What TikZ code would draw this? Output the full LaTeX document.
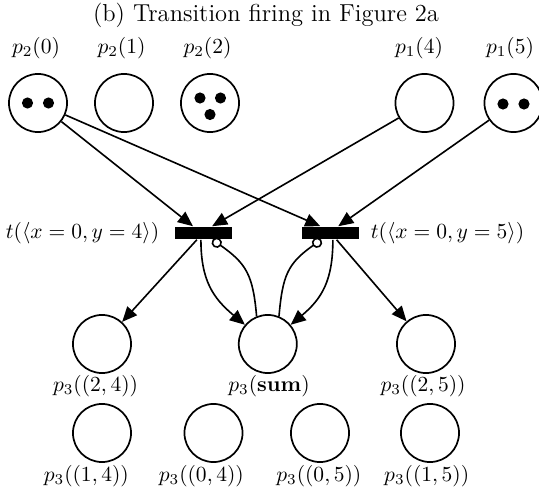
\documentclass[tikz,border=0pt]{standalone}
\usetikzlibrary{arrows.meta}
\begin{document}
\begin{tikzpicture}[x=0.465pt,y=-0.465pt,
  place/.style={circle,draw,line width=0.8pt,minimum size=27pt,inner sep=0pt},
  trans/.style={rectangle,fill=black,minimum width=26.5pt,minimum height=5.9pt,inner sep=0pt},
  tok/.style={circle,fill=black,minimum size=5.2pt,inner sep=0pt},
  lbl/.style={inner sep=0pt},
  arc/.style={line width=0.75pt,-{Triangle[length=7pt,width=6pt]}},
  readarc/.style={line width=0.75pt,-{Circle[open,length=4.8pt]}}
]
\clip (0,0) rectangle (539,494);
\node[lbl] (title) at (266,15) {\fontsize{11.4}{13}\selectfont (b) Transition firing in Figure 2a};
% top places
\node[place] (p20) at (38,103) {};
\node[place] (p21) at (124,103) {};
\node[place] (p22) at (210,103) {};
\node[place] (p14) at (424.5,103) {};
\node[place] (p15) at (513.5,103) {};
\node[lbl] (l20) at (36,48) {$p_2(0)$};
\node[lbl] (l21) at (121.5,48) {$p_2(1)$};
\node[lbl] (l22) at (207.5,48) {$p_2(2)$};
\node[lbl] (l14) at (419,48) {$p_1(4)$};
\node[lbl] (l15) at (510,48) {$p_1(5)$};
% tokens
\node[tok] (t20a) at (27.5,103) {};
\node[tok] (t20b) at (48.5,103) {};
\node[tok] (t22a) at (200,98) {};
\node[tok] (t22b) at (220.5,98) {};
\node[tok] (t22c) at (210,114.5) {};
\node[tok] (t15a) at (503,104) {};
\node[tok] (t15b) at (524,104) {};
% transitions
\node[trans] (lbar) at (203.5,233) {};
\node[trans] (rbar) at (330.3,233) {};
\node[lbl] (lt) at (82.5,233) {$t(\langle x=0,y=4\rangle)$};
\node[lbl] (rt) at (447.5,233) {$t(\langle x=0,y=5\rangle)$};
% middle places
\node[place] (p324) at (102,344) {};
\node[place] (psum) at (267.8,344) {};
\node[place] (p325) at (426,344) {};
\node[lbl] (l324) at (95.5,386) {$p_3((2,4))$};
\node[lbl] (lsum) at (269,386) {$p_3(\mathbf{sum})$};
\node[lbl] (l325) at (423,386) {$p_3((2,5))$};
% bottom places
\node[place] (p314) at (102,433) {};
\node[place] (p304) at (213.5,433) {};
\node[place] (p305) at (320,433) {};
\node[place] (p315) at (430,433) {};
\node[lbl] (l314) at (86.3,476) {$p_3((1,4))$};
\node[lbl] (l304) at (201.3,476) {$p_3((0,4))$};
\node[lbl] (l305) at (318.8,476) {$p_3((0,5))$};
\node[lbl] (l315) at (426.7,476) {$p_3((1,5))$};
% arcs
\draw[arc] (p20) -- ([xshift=-4.9pt]lbar.north);
\draw[arc] (p14) -- ([xshift=4pt]lbar.north);
\draw[arc] (p20) -- ([xshift=-4.65pt]rbar.north);
\draw[arc] (p15) -- ([xshift=3.7pt]rbar.north);
\draw[arc] ([xshift=-3.1pt]lbar.south) -- (p324);
\draw[arc] ([xshift=2.95pt]rbar.south) -- (p325);
\draw[arc] ([xshift=-1.2pt]lbar.south) to[out=-90,in=140,looseness=1.1] (psum);
\draw[arc] ([xshift=1.2pt]rbar.south) to[out=-90,in=40,looseness=1.1] (psum);
\draw[readarc] (psum.112) to[out=95,in=-35,looseness=1.2] ([xshift=4.2pt]lbar.south);
\draw[readarc] (psum.68) to[out=85,in=-145,looseness=1.2] ([xshift=-4.2pt]rbar.south);
\end{tikzpicture}
\end{document}
